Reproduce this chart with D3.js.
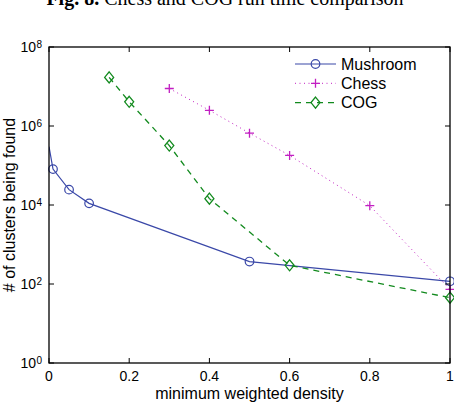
<!DOCTYPE html>
<html>
<head>
<meta charset="utf-8">
<script src="https://cdn.jsdelivr.net/npm/d3@7"></script>
<style>
  body { margin: 0; background: #fff; }
  text { font-family: "Liberation Sans", Arial, sans-serif; }
</style>
</head>
<body>
<div id="chart"></div>
<script>
// data
const mushroomX = [0, 0.01, 0.05, 0.1, 0.5, 1];
const mushroomY = [300000, 81000, 24500, 11000, 370, 117];
const chessX = [0.3, 0.4, 0.5, 0.6, 0.8, 1];
const chessY = [8.9e6, 2.5e6, 6.6e5, 1.8e5, 9600, 73];
const cogX = [0.15, 0.2, 0.3, 0.4, 0.6, 1];
const cogY = [1.7e7, 4.1e6, 3.2e5, 14500, 297, 45];
const xTicks = [0, 0.2, 0.4, 0.6, 0.8, 1];
const yTickExp = [0, 2, 4, 6, 8];

const width = 454, height = 402;
const margin = {top: 47, right: 4, bottom: 39, left: 49};

const svg = d3.select("#chart").append("svg")
  .attr("width", width)
  .attr("height", height);

// title, mostly cut off at top of the crop
const title = svg.append("text")
  .attr("x", 225)
  .attr("y", 5)
  .attr("text-anchor", "middle")
  .style("font-family", "'Liberation Serif', 'DejaVu Serif', serif")
  .style("font-size", "20px");
title.append("tspan").style("font-weight", "bold").text("Fig. 8. ");
title.append("tspan").text("Chess and COG run time comparison");

const x = d3.scaleLinear()
  .domain([0, 1])
  .range([margin.left, width - margin.right]);

const y = d3.scaleLog()
  .domain([1, 1e8])
  .range([height - margin.bottom, margin.top]);

const series = [
  {name: "Mushroom", xs: mushroomX, ys: mushroomY, color: "#3a48a8", dash: null, width: 1.2, marker: "circle"},
  {name: "Chess", xs: chessX, ys: chessY, color: "#c21fc2", dash: "1,3.5", width: 1, marker: "plus"},
  {name: "COG", xs: cogX, ys: cogY, color: "#128a1e", dash: "6,5", width: 1.3, marker: "diamond"}
];

svg.append("defs").append("clipPath").attr("id", "plotclip")
  .append("rect")
  .attr("x", margin.left)
  .attr("y", margin.top)
  .attr("width", width - margin.left - margin.right)
  .attr("height", height - margin.top - margin.bottom);

const line = d3.line().x(d => x(d[0])).y(d => y(d[1]));

function drawMarker(g, type, cx, cy, color) {
  if (type === "circle") {
    g.append("circle").attr("cx", cx).attr("cy", cy).attr("r", 4.3)
      .attr("fill", "none").attr("stroke", color).attr("stroke-width", 1.2);
  } else if (type === "plus") {
    g.append("path").attr("d", `M${cx - 4.5},${cy}H${cx + 4.5}M${cx},${cy - 4.5}V${cy + 4.5}`)
      .attr("stroke", color).attr("stroke-width", 1.3);
  } else {
    g.append("path").attr("d", `M${cx},${cy - 5.5}L${cx + 4.5},${cy}L${cx},${cy + 5.5}L${cx - 4.5},${cy}Z`)
      .attr("fill", "none").attr("stroke", color).attr("stroke-width", 1.3);
  }
}

series.forEach(s => {
  const pts = s.xs.map((v, i) => [v, s.ys[i]]);
  svg.append("path")
    .datum(pts)
    .attr("clip-path", "url(#plotclip)")
    .attr("d", line)
    .attr("fill", "none")
    .attr("stroke", s.color)
    .attr("stroke-width", s.width)
    .attr("stroke-dasharray", s.dash);
  const g = svg.append("g");
  // the x=0 point shows no marker in the original
  pts.filter(p => p[0] > 0).forEach(p => drawMarker(g, s.marker, x(p[0]), y(p[1]), s.color));
});

// axes box with inward ticks on all four sides
const x0 = margin.left, x1 = width - margin.right;
const y0 = height - margin.bottom, y1 = margin.top;
const tl = 5;
const axes = svg.append("g").attr("stroke", "#000").attr("stroke-width", 1);
xTicks.forEach(t => {
  axes.append("line").attr("x1", x(t)).attr("x2", x(t)).attr("y1", y0).attr("y2", y0 - tl);
  axes.append("line").attr("x1", x(t)).attr("x2", x(t)).attr("y1", y1).attr("y2", y1 + tl);
});
yTickExp.forEach(e => {
  const yy = y(Math.pow(10, e));
  axes.append("line").attr("x1", x0).attr("x2", x0 + tl).attr("y1", yy).attr("y2", yy);
  axes.append("line").attr("x1", x1).attr("x2", x1 - tl).attr("y1", yy).attr("y2", yy);
});
axes.append("rect")
  .attr("x", x0).attr("y", y1)
  .attr("width", x1 - x0).attr("height", y0 - y1)
  .attr("fill", "none").attr("stroke-width", 1.3);

// tick labels
svg.append("g").selectAll("text")
  .data(xTicks)
  .enter().append("text")
  .attr("x", d => x(d))
  .attr("y", y0 + 18)
  .attr("text-anchor", "middle")
  .style("font-size", "14px")
  .text(d => d3.format("")(d));

yTickExp.forEach(e => {
  svg.append("text")
    .attr("x", 36)
    .attr("y", y(Math.pow(10, e)) + 5)
    .attr("text-anchor", "end")
    .style("font-size", "14px")
    .text("10");
  svg.append("text")
    .attr("x", 36.5)
    .attr("y", y(Math.pow(10, e)) + 0.5)
    .style("font-size", "10px")
    .text(e);
});

// axis titles
svg.append("text")
  .attr("x", (x0 + x1) / 2)
  .attr("y", 399)
  .attr("text-anchor", "middle")
  .style("font-size", "16px")
  .text("minimum weighted density");

svg.append("text")
  .attr("transform", `translate(15,${(y0 + y1) / 2}) rotate(-90)`)
  .attr("text-anchor", "middle")
  .style("font-size", "16px")
  .text("# of clusters being found");

// legend
const legend = svg.append("g");
series.forEach((s, i) => {
  const ly = 64 + i * 19.3;
  legend.append("line")
    .attr("x1", 295).attr("x2", 336)
    .attr("y1", ly).attr("y2", ly)
    .attr("stroke", s.color)
    .attr("stroke-width", s.width)
    .attr("stroke-dasharray", s.dash);
  drawMarker(legend, s.marker, 315.5, ly, s.color);
  legend.append("text")
    .attr("x", 341)
    .attr("y", ly + 5.5)
    .style("font-size", "16px")
    .text(s.name);
});
</script>
</body>
</html>
